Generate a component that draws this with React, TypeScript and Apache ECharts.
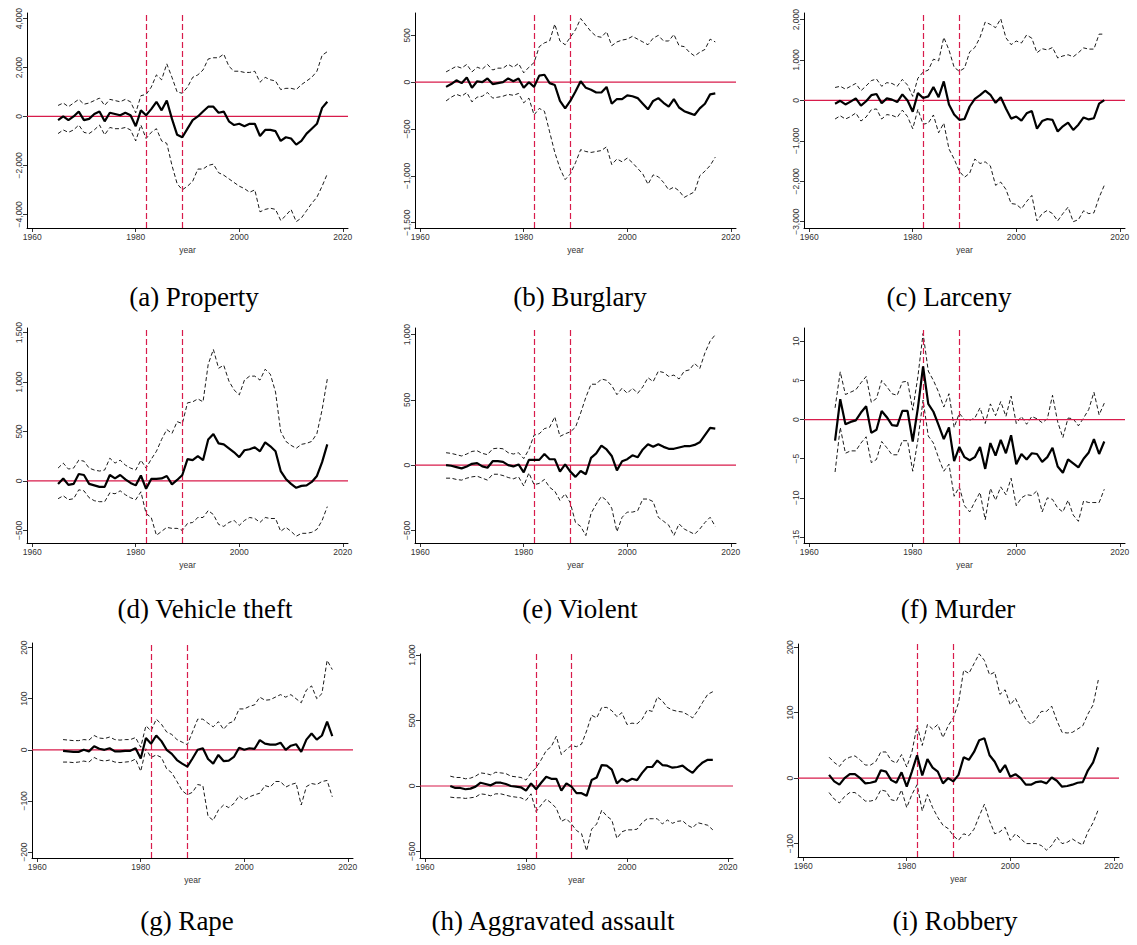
import React, { useEffect, useRef } from "react";
import * as echarts from "echarts";

const years = Array.from({ length: 53 }, (_, i) => 1965 + i);
const breakYears = [1982, 1989];
const xTicks = [1960, 1980, 2000, 2020];

// (a) Property
const propertyEst = [-150, 0, -150, 0, 200, -150, -100, 100, 200, -200, 150, 100, 50, 150, 50, -400, 250, 50, 300, 600, 250, 650, -100, -750, -850, -500, -150, 0, 200, 400, 400, 150, 200, -200, -350, -300, -400, -300, -300, -800, -550, -550, -600, -1000, -850, -900, -1150, -1000, -700, -500, -300, 350, 600];
const propertyHi = [450, 550, 400, 550, 700, 500, 550, 650, 750, 450, 700, 650, 600, 700, 600, 150, 850, 900, 1200, 1700, 1500, 2150, 1600, 1000, 950, 1200, 1600, 1700, 1900, 2350, 2400, 2400, 2550, 2050, 1850, 1850, 1800, 1800, 1850, 1400, 1600, 1500, 1450, 1100, 1150, 1150, 1100, 1300, 1450, 1600, 1850, 2500, 2650];
const propertyLo = [-700, -550, -650, -550, -350, -650, -700, -550, -350, -750, -450, -500, -500, -450, -550, -1000, -350, -900, -650, -500, -1000, -1100, -2000, -2750, -3000, -2850, -2650, -2150, -2150, -2000, -1950, -2300, -2400, -2550, -2700, -2850, -2950, -3100, -3000, -3900, -3800, -3750, -3800, -4250, -4050, -3800, -4300, -4150, -3850, -3550, -3300, -2850, -2350];

// (b) Burglary
const burglaryEst = [-50, -20, 20, -10, 50, -60, 10, 0, 40, -20, -10, 0, 40, 10, 40, -60, 0, -50, 70, 80, -10, -30, -200, -280, -200, -100, 10, -60, -80, -110, -110, -50, -230, -180, -180, -140, -150, -170, -230, -290, -200, -170, -220, -260, -180, -270, -310, -330, -350, -280, -230, -130, -120];
const burglaryHi = [110, 140, 170, 150, 190, 110, 160, 140, 190, 130, 150, 150, 190, 160, 200, 100, 160, 210, 380, 420, 440, 620, 440, 400, 480, 560, 680, 610, 540, 490, 480, 540, 390, 430, 450, 460, 490, 460, 430, 400, 470, 500, 440, 440, 510, 390, 380, 320, 280, 320, 350, 460, 430];
const burglaryLo = [-200, -160, -130, -150, -110, -210, -160, -150, -110, -170, -160, -150, -130, -140, -120, -220, -170, -350, -280, -310, -530, -750, -920, -1040, -980, -860, -720, -740, -750, -740, -730, -690, -880, -820, -850, -810, -860, -920, -980, -1090, -990, -1010, -1070, -1150, -1120, -1160, -1230, -1200, -1170, -1000, -950, -890, -800];

// (c) Larceny
const larcenyEst = [-80, -10, -100, -30, 50, -130, -20, 130, 160, -70, 50, 20, -40, 150, 0, -280, 180, 60, 100, 330, 80, 470, -100, -350, -480, -460, -150, 40, 130, 240, 140, -60, 80, -200, -450, -400, -500, -320, -260, -700, -510, -460, -480, -770, -640, -550, -730, -600, -420, -470, -440, -80, 10];
const larcenyHi = [320, 350, 280, 350, 420, 240, 360, 490, 530, 350, 440, 420, 350, 520, 380, 100, 550, 700, 750, 1020, 980, 1560, 1250, 820, 720, 800, 1200, 1310, 1560, 1940, 1880, 1800, 2020, 1550, 1380, 1470, 1420, 1620, 1540, 1180, 1280, 1250, 1310, 1050, 1100, 1130, 1080, 1180, 1300, 1270, 1270, 1640, 1640];
const larcenyLo = [-460, -380, -460, -400, -310, -510, -410, -230, -210, -460, -350, -370, -420, -240, -400, -700, -220, -590, -560, -360, -800, -560, -1200, -1450, -1750, -1900, -1800, -1450, -1560, -1520, -1620, -2100, -2020, -2200, -2550, -2570, -2680, -2500, -2350, -2980, -2800, -2720, -2800, -2980, -2800, -2640, -3000, -2950, -2730, -2800, -2780, -2400, -2100];

// (d) Vehicle theft
const vehicleEst = [-30, 25, -40, -30, 70, 60, -30, -45, -60, -60, 60, 25, 60, 15, -20, -45, 55, -80, 20, 20, 25, 50, -35, 10, 60, 220, 210, 250, 210, 420, 475, 380, 370, 330, 290, 240, 310, 320, 340, 300, 390, 350, 300, 100, 20, -30, -70, -50, -45, -10, 50, 190, 370];
const vehicleHi = [130, 180, 120, 130, 210, 200, 130, 110, 100, 110, 230, 180, 210, 160, 130, 110, 210, 130, 220, 300, 420, 520, 480, 600, 580, 790, 800, 830, 800, 1180, 1330, 1140, 1170, 1010, 920, 870, 1020, 1060, 1060, 1020, 1130, 1080, 900, 500, 400, 360, 330, 370, 380, 400, 480, 720, 1030];
const vehicleLo = [-180, -150, -190, -180, -90, -100, -170, -200, -210, -210, -120, -130, -100, -140, -170, -190, -110, -330, -370, -550, -510, -470, -480, -480, -500, -430, -420, -370, -370, -300, -340, -440, -460, -420, -400, -450, -400, -370, -380, -420, -370, -380, -380, -510, -470, -510, -560, -530, -530, -520, -490, -400, -260];

// (e) Violent
const violentEst = [0, -5, -15, -25, -10, 10, 15, -10, -20, 30, 30, 25, 0, -10, 5, -55, 40, 40, 40, 85, 45, 45, -50, 5, -50, -90, -45, -70, 55, 90, 150, 120, 70, -40, 30, 45, 75, 60, 120, 160, 140, 160, 140, 125, 125, 135, 145, 145, 155, 175, 230, 285, 280];
const violentHi = [95, 90, 80, 70, 85, 105, 110, 90, 80, 125, 130, 125, 95, 85, 95, 50, 120, 230, 240, 280, 290, 370, 220, 240, 255, 290, 400, 520, 620, 620, 660, 650, 610, 540, 590, 550, 590, 550, 600, 670, 640, 720, 710, 680, 690, 660, 720, 730, 780, 740, 860, 950, 1000];
const violentLo = [-100, -100, -110, -115, -100, -90, -85, -100, -115, -70, -70, -80, -95, -105, -90, -160, -60, -150, -140, -110, -170, -200, -270, -220, -290, -440, -470, -540, -370, -300, -240, -270, -330, -510, -400, -360, -360, -350, -260, -260, -280, -400, -430, -460, -540, -450, -490, -510, -530, -490, -440, -400, -470];

// (f) Murder
const murderEst = [-2.7, 2.6, -0.6, -0.3, -0.1, 0.9, 1.7, -1.7, -1.3, 1.1, 0.3, -0.7, -0.8, 1.1, 1.1, -2.8, 1.5, 6.8, 2.0, 1.0, -0.7, -2.5, -1.0, -5.3, -3.5, -4.8, -5.2, -4.8, -3.5, -6.3, -3.0, -4.6, -2.6, -4.3, -2.0, -5.7, -4.4, -5.1, -4.3, -4.4, -5.4, -4.8, -3.6, -6.0, -6.8, -5.1, -5.6, -6.1, -5.0, -4.2, -2.5, -4.4, -2.8];
const murderHi = [1.5, 6.1, 3.2, 3.5, 3.8, 4.7, 5.5, 2.2, 2.7, 5.0, 4.2, 3.3, 3.1, 4.8, 4.9, 1.2, 5.5, 11.0, 6.2, 5.0, 3.5, 1.6, 3.3, -1.0, 0.8, 0.0, -0.1, 0.2, 1.5, -0.5, 2.0, 0.5, 2.3, 0.4, 3.0, -0.5, 0.4, -0.6, 0.4, 0.1, -0.4, 0.1, 3.1, -0.3, -2.3, 0.2, 0.1, -0.8, 0.2, 1.3, 3.5, 0.6, 2.1];
const murderLo = [-6.7, -1.0, -4.3, -4.0, -4.0, -3.0, -2.2, -5.5, -5.1, -2.8, -3.6, -4.5, -4.5, -2.7, -2.7, -6.6, -2.6, 2.5, -2.1, -3.0, -4.9, -6.6, -5.7, -9.8, -8.6, -11.0, -11.8, -10.5, -9.3, -12.8, -8.8, -10.3, -8.6, -9.6, -7.5, -11.0, -10.0, -9.6, -9.7, -9.1, -11.8, -10.0, -10.2, -11.3, -11.8, -10.3, -12.2, -13.0, -10.4, -10.6, -10.6, -10.6, -8.9];

// (g) Rape
const rapeEst = [-2, -3, -4, -4, 0, -3, 7, 2, 0, 3, -3, -3, -2, -2, 3, -17, 23, 12, 28, 17, 0, -8, -20, -27, -33, -17, 0, 3, -18, -27, -10, -22, -21, -14, 4, 0, 3, 2, 19, 12, 10, 10, 14, 0, 8, 11, -4, 20, 32, 20, 28, 55, 27];
const rapeHi = [20, 19, 18, 18, 20, 19, 28, 23, 22, 25, 20, 19, 20, 20, 24, 5, 47, 37, 60, 50, 35, 30, 20, 15, 10, 35, 60, 60, 52, 45, 55, 40, 52, 56, 80, 80, 85, 88, 103, 97, 98, 103, 108, 103, 108, 100, 92, 117, 125, 100, 110, 175, 157];
const rapeLo = [-24, -24, -25, -24, -22, -24, -15, -20, -22, -20, -24, -25, -24, -23, -18, -42, 2, -15, -10, -15, -37, -45, -62, -80, -88, -83, -68, -70, -130, -138, -118, -108, -113, -105, -90, -98, -92, -88, -85, -70, -73, -62, -62, -73, -68, -65, -108, -72, -66, -68, -62, -60, -92];

// (h) Aggravated assault
const assaultEst = [0, -15, -15, -25, -20, -5, 25, 15, 5, 25, 25, 15, 0, -5, -10, -35, 20, -25, 25, 70, 55, 55, -35, 20, -5, -55, -55, -75, 45, 65, 160, 155, 125, 20, 55, 35, 55, 45, 100, 145, 145, 195, 160, 155, 140, 145, 155, 125, 100, 145, 180, 200, 200];
const assaultHi = [75, 65, 65, 55, 60, 75, 100, 95, 85, 105, 100, 95, 75, 70, 65, 45, 100, 140, 200, 270, 300, 380, 240, 280, 310, 300, 320, 420, 540, 520, 600, 600, 575, 530, 560, 470, 480, 475, 510, 580, 570, 680, 650, 600, 580, 570, 565, 545, 520, 575, 640, 700, 720];
const assaultLo = [-85, -90, -90, -95, -90, -85, -60, -65, -75, -60, -60, -70, -80, -85, -90, -110, -60, -195, -145, -100, -130, -170, -270, -250, -290, -340, -365, -495, -330, -290, -185, -230, -260, -400, -350, -335, -335, -330, -280, -250, -250, -250, -290, -260, -285, -270, -265, -300, -320, -280, -290, -300, -335];

// (i) Robbery
const robberyEst = [5, -5, -10, 0, 6, 6, 0, -8, -7, -5, 12, 10, -3, -7, 9, -13, 10, 35, 4, 29, 16, 10, -8, 0, -5, 5, 32, 28, 40, 58, 61, 35, 25, 9, 20, 2, 6, 0, -10, -10, -6, -5, -8, 1, -4, -13, -12, -10, -7, -6, 12, 24, 47];
const robberyHi = [32, 24, 18, 28, 32, 34, 28, 20, 20, 25, 40, 40, 27, 23, 36, 17, 40, 80, 50, 82, 75, 82, 62, 80, 92, 115, 165, 160, 175, 190, 180, 158, 162, 128, 135, 112, 122, 105, 90, 82, 90, 102, 102, 110, 88, 70, 69, 70, 75, 80, 98, 112, 150];
const robberyLo = [-22, -32, -38, -28, -22, -22, -28, -35, -35, -33, -18, -20, -33, -35, -18, -45, -25, -10, -50, -25, -45, -60, -72, -77, -88, -95, -85, -88, -78, -58, -40, -65, -85, -82, -75, -95, -85, -92, -100, -100, -100, -103, -110, -103, -90, -100, -98, -93, -98, -102, -82, -68, -48];

const captions = ["(a) Property", "(b) Burglary", "(c) Larceny", "(d) Vehicle theft", "(e) Violent", "(f) Murder", "(g) Rape", "(h) Aggravated assault", "(i) Robbery"];
const yTicks = [
  [-4000, -2000, 0, 2000, 4000],
  [-1500, -1000, -500, 0, 500],
  [-3000, -2000, -1000, 0, 1000, 2000],
  [-500, 0, 500, 1000, 1500],
  [-500, 0, 500, 1000],
  [-15, -10, -5, 0, 5, 10],
  [-200, -100, 0, 100, 200],
  [-500, 0, 500, 1000],
  [-100, 0, 100, 200],
];
const yRanges = [
  [-4560, 4230],
  [-1557, 739],
  [-3156, 2163],
  [-628, 1547],
  [-597, 1051],
  [-15.77, 11.7],
  [-211.7, 209],
  [-550, 1008],
  [-120.5, 205],
];
const estimates = [propertyEst, burglaryEst, larcenyEst, vehicleEst, violentEst, murderEst, rapeEst, assaultEst, robberyEst];
const uppers = [propertyHi, burglaryHi, larcenyHi, vehicleHi, violentHi, murderHi, rapeHi, assaultHi, robberyHi];
const lowers = [propertyLo, burglaryLo, larcenyLo, vehicleLo, violentLo, murderLo, rapeLo, assaultLo, robberyLo];

// plot boxes in page pixels: left, top, width, height
const boxes = [
  [27, 13, 321, 215],
  [415, 13, 321, 215],
  [804, 13, 321, 215],
  [27, 328, 321, 215],
  [415, 328, 321, 215],
  [804, 328, 321, 215],
  [32, 643, 321, 215],
  [420, 654, 313, 204],
  [798, 644, 321, 213],
];
// caption centres
const captionPos = [
  [194, 297], [580, 297], [949, 297],
  [205, 609], [580, 609], [958, 609],
  [187, 921], [553, 921], [955, 921],
];

const RED = "#d81b4b";
const INK = "#000";
const LABEL = "#333";
const SANS = "'Liberation Sans', Arial, sans-serif";

const fmt = (v: number) => {
  const s = Math.abs(v).toLocaleString("en-US");
  return v < 0 ? "\u2212" + s : s;
};

const pairs = (vals: number[]) => years.map((y, i) => [y, vals[i]]);

const App: React.FC = () => {
  const ref = useRef<HTMLDivElement>(null);

  useEffect(() => {
    if (!ref.current) return;
    const chart = echarts.init(ref.current, undefined, { renderer: "svg" });

    const grid = boxes.map(([left, top, width, height]) => ({ left, top, width, height }));

    const xAxis = boxes.map((_, i) => ({
      gridIndex: i,
      type: "value",
      min: 1959,
      max: 2021,
      axisLine: { onZero: false, lineStyle: { color: INK, width: 1 } },
      axisTick: { customValues: xTicks, length: 4, lineStyle: { color: INK, width: 0.8 } },
      axisLabel: {
        customValues: xTicks,
        fontSize: 8.5,
        color: LABEL,
        margin: 4,
        fontFamily: SANS,
        formatter: (v: number) => String(v),
      },
      splitLine: { show: false },
      name: "year",
      nameLocation: "middle",
      nameGap: 17,
      nameTextStyle: { fontSize: 8.5, color: LABEL, fontFamily: SANS },
    }));

    const yAxis = boxes.map((_, i) => ({
      gridIndex: i,
      type: "value",
      min: yRanges[i][0],
      max: yRanges[i][1],
      axisLine: { show: true, onZero: false, lineStyle: { color: INK, width: 1 } },
      axisTick: { show: true, customValues: yTicks[i], length: 4, lineStyle: { color: INK, width: 0.8 } },
      axisLabel: {
        customValues: yTicks[i],
        rotate: 90,
        fontSize: 8.5,
        color: LABEL,
        margin: 4,
        fontFamily: SANS,
        formatter: (v: number) => fmt(v),
      },
      splitLine: { show: false },
    }));

    const series: any[] = [];
    boxes.forEach((_, i) => {
      const band = (vals: number[]) => ({
        type: "line",
        xAxisIndex: i,
        yAxisIndex: i,
        data: pairs(vals),
        symbol: "none",
        silent: true,
        color: INK,
        lineStyle: { color: INK, width: 0.9, type: [4, 2.5] },
        z: 2,
      });
      series.push(band(uppers[i]));
      series.push(band(lowers[i]));
      // zero line across the plot, with the two break years as dashed verticals
      series.push({
        type: "line",
        xAxisIndex: i,
        yAxisIndex: i,
        data: [[1959, 0], [2021, 0]],
        symbol: "none",
        silent: true,
        color: RED,
        lineStyle: { color: RED, width: 1.2, type: "solid" },
        z: 3,
        markLine: {
          silent: true,
          symbol: ["none", "none"],
          label: { show: false },
          animation: false,
          lineStyle: { color: RED, width: 1.2, type: [6, 3] },
          data: breakYears.map((y) => ({ xAxis: y })),
        },
      });
      series.push({
        type: "line",
        xAxisIndex: i,
        yAxisIndex: i,
        data: pairs(estimates[i]),
        symbol: "none",
        silent: true,
        color: INK,
        lineStyle: { color: INK, width: 2.2 },
        z: 5,
      });
    });

    const graphic = captions.map((c, i) => ({
      type: "text",
      x: captionPos[i][0],
      y: captionPos[i][1],
      style: {
        text: c,
        fontFamily: "'Liberation Serif', 'Times New Roman', serif",
        fontSize: 27,
        fill: "#000",
        textAlign: "center",
        textVerticalAlign: "middle",
      },
    }));

    chart.setOption({
      animation: false,
      backgroundColor: "#fff",
      grid,
      xAxis,
      yAxis,
      series,
      graphic,
    });

    return () => {
      chart.dispose();
    };
  }, []);

  return (
    <div
      ref={ref}
      style={{ position: "absolute", left: 0, top: 0, width: 1137, height: 945 }}
    />
  );
};

export default App;
